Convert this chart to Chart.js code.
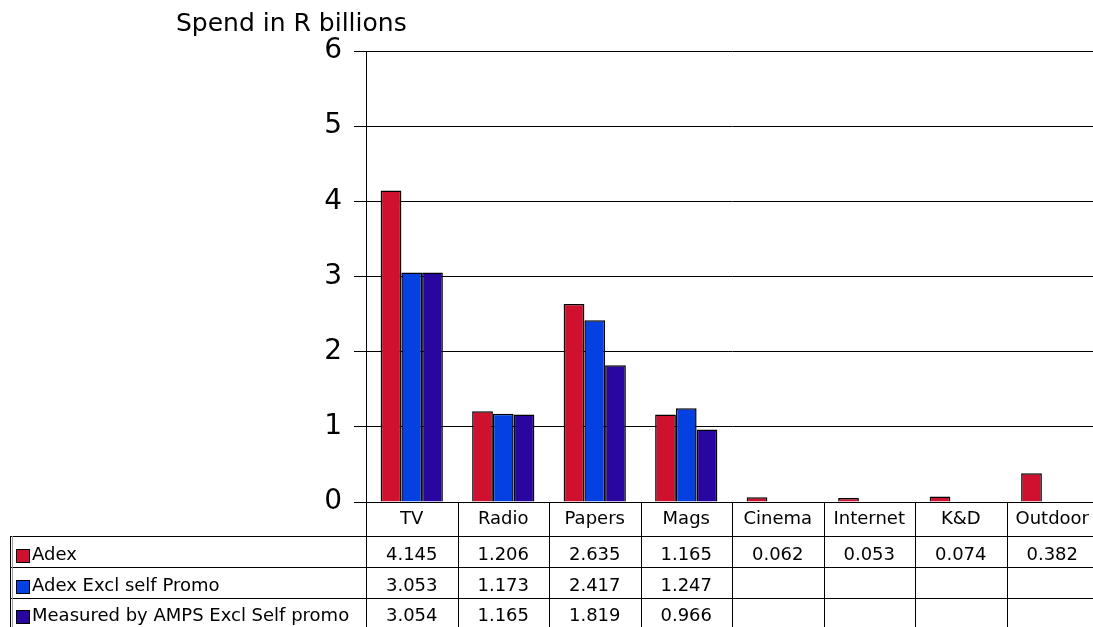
<!DOCTYPE html>
<html>
<head>
<meta charset="utf-8">
<script src="https://cdn.jsdelivr.net/npm/chart.js@4.4.1/dist/chart.umd.min.js"></script>
<style>
  html, body { margin: 0; padding: 0; background: #fff; overflow: hidden; }
  #wrap { width: 1098px; height: 627px; }
</style>
</head>
<body>
<div id="wrap"><canvas id="spendChart" width="1098" height="627"></canvas></div>
<script>
const categories = ['TV', 'Radio', 'Papers', 'Mags', 'Cinema', 'Internet', 'K&D', 'Outdoor'];
const adex = [4.145, 1.206, 2.635, 1.165, 0.062, 0.053, 0.074, 0.382];
const adexExclPromo = [3.053, 1.173, 2.417, 1.247, null, null, null, null];
const ampsExclPromo = [3.054, 1.165, 1.819, 0.966, null, null, null, null];
const seriesNames = ['Adex', 'Adex Excl self Promo', 'Measured by AMPS Excl Self promo'];
const seriesColors = ['#d0102f', '#0541e2', '#2a06a0'];
const yTicks = [0, 1, 2, 3, 4, 5, 6];

const FONT = '"DejaVu Sans", Verdana, sans-serif';

// data table under the plot, columns follow the category scale
const dataTable = {
  id: 'dataTable',
  afterDraw(chart) {
    const ctx = chart.ctx;
    const x = chart.scales.x;
    const area = chart.chartArea;
    const colW = (area.right - area.left) / categories.length;
    const top = area.bottom;
    const rows = [top, 536, 567, 598, 628];
    const left = 10;

    ctx.save();
    ctx.strokeStyle = '#000';
    ctx.lineWidth = 1;
    ctx.beginPath();
    // column separators
    for (let i = 0; i <= categories.length; i++) {
      const cx = Math.round(area.left + i * colW) + 0.5;
      ctx.moveTo(cx, top);
      ctx.lineTo(cx, rows[4]);
    }
    // row lines
    for (let r = 1; r < rows.length; r++) {
      ctx.moveTo(left, rows[r] + 0.5);
      ctx.lineTo(area.right, rows[r] + 0.5);
    }
    ctx.moveTo(left + 0.5, rows[1]);
    ctx.lineTo(left + 0.5, rows[4]);
    ctx.stroke();
    ctx.strokeStyle = '#999';
    ctx.beginPath();
    ctx.moveTo(left + 2.5, rows[1]);
    ctx.lineTo(left + 2.5, rows[4]);
    ctx.stroke();

    ctx.fillStyle = '#000';
    ctx.font = '18px ' + FONT;
    ctx.textBaseline = 'middle';
    ctx.textAlign = 'center';
    categories.forEach((c, i) => {
      ctx.fillText(c, x.getPixelForValue(i), 519);
    });

    const series = [adex, adexExclPromo, ampsExclPromo];
    const mids = [555, 586, 616];
    series.forEach((vals, s) => {
      ctx.textAlign = 'center';
      ctx.fillStyle = '#000';
      vals.forEach((v, i) => {
        if (v !== null) ctx.fillText(v.toFixed(3), x.getPixelForValue(i), mids[s]);
      });
      // legend key
      ctx.fillStyle = seriesColors[s];
      ctx.fillRect(16, mids[s] - 6, 14, 14);
      ctx.strokeStyle = '#000';
      ctx.strokeRect(16.5, mids[s] - 5.5, 13, 13);
      ctx.fillStyle = '#000';
      ctx.textAlign = 'left';
      ctx.fillText(seriesNames[s], 32, mids[s]);
    });

    ctx.font = '25px ' + FONT;
    ctx.textAlign = 'left';
    ctx.textBaseline = 'alphabetic';
    ctx.fillText('Spend in R billions', 176, 31);
    ctx.restore();
  }
};

new Chart(document.getElementById('spendChart').getContext('2d'), {
  type: 'bar',
  data: {
    labels: categories,
    datasets: seriesNames.map((name, s) => ({
      label: name,
      data: [adex, adexExclPromo, ampsExclPromo][s],
      backgroundColor: seriesColors[s],
      borderColor: '#000',
      borderWidth: 1.5,
      borderSkipped: 'bottom',
      categoryPercentage: 0.68,
      barPercentage: 1.0
    }))
  },
  options: {
    responsive: false,
    animation: false,
    layout: { padding: { top: 51, right: 0, left: 0, bottom: 0 } },
    plugins: {
      legend: { display: false },
      title: { display: false },
      tooltip: { enabled: false }
    },
    scales: {
      x: {
        ticks: { display: false },
        grid: { display: false },
        border: { display: true, color: '#000', width: 1 },
        afterFit(scale) { scale.height = 125; }
      },
      y: {
        min: 0,
        max: 6,
        afterBuildTicks(scale) { scale.ticks = yTicks.map(v => ({ value: v })); },
        ticks: {
          color: '#000',
          font: { family: FONT, size: 28 },
          padding: 12
        },
        grid: { color: '#000', lineWidth: 1, tickLength: 12, drawOnChartArea: true },
        border: { display: true, color: '#000', width: 1 },
        afterFit(scale) { scale.width = 366; }
      }
    }
  },
  plugins: [dataTable]
});
</script>
</body>
</html>
